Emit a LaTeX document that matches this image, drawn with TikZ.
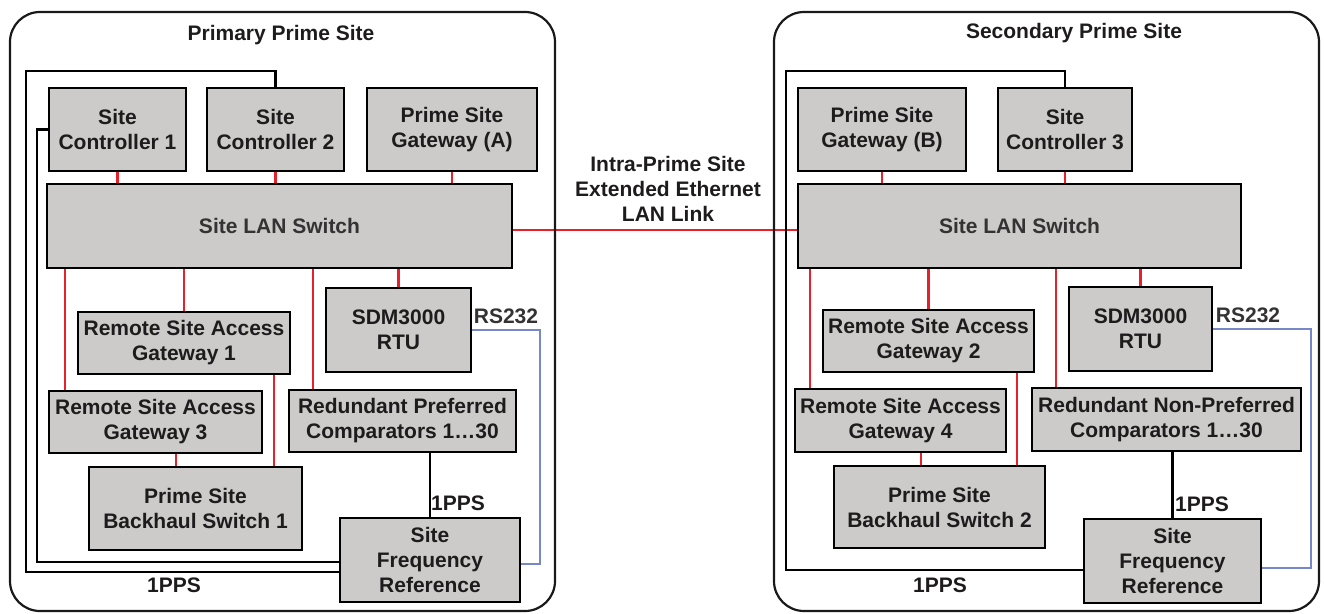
\documentclass[tikz,border=0pt]{standalone}
\usepackage{fontspec}
\setmainfont{Liberation Sans}
\usetikzlibrary{backgrounds}
\definecolor{boxfill}{RGB}{205,203,202}
\definecolor{ink}{RGB}{30,27,28}
\definecolor{softink}{RGB}{52,50,50}
\definecolor{lanred}{RGB}{232,32,42}
\definecolor{serblue}{RGB}{118,136,200}
\tikzset{
  unit/.style={draw=black, fill=boxfill, line width=2.6pt, inner sep=0pt, outer sep=0pt,
    align=center, text=ink, font=\bfseries\fontsize{21}{25}\selectfont},
  panel/.style={draw=black!90, line width=2.2pt, rounded corners=30pt},
  lan/.style={draw=lanred, line width=2.2pt},
  pps/.style={draw=black, line width=2.6pt},
  ser/.style={draw=serblue, line width=2.4pt},
  lbl/.style={text=ink, inner sep=0pt, align=center, font=\bfseries\fontsize{21}{25}\selectfont}
}
% unit box from its corners: name, x1, y1, x2, y2, text
\newcommand{\unitbox}[6]{%
  \node[unit, minimum width={(#4-#2)*1pt}, minimum height={(#5-#3)*1pt}]
    (#1) at ({(#2+#4)/2},{(#3+#5)/2}) {#6};}
\begin{document}
\begin{tikzpicture}[x=1pt, y=-1pt]
\useasboundingbox (0,0) rectangle (1325,613);

% site enclosures
\draw[panel] (10,12) rectangle (555,611);
\draw[panel] (774,12) rectangle (1319,611);
\node[lbl] (ptitle) at (281,35) {Primary Prime Site};
\node[lbl] (stitle) at (1074,33) {Secondary Prime Site};

% ---------- primary site ----------
\unitbox{sc1}{49}{88}{186}{171}{Site\\Controller 1}
\unitbox{sc2}{207}{88}{344}{171}{Site\\Controller 2}
\unitbox{psga}{367}{88}{537}{171}{Prime Site\\Gateway (A)}
\unitbox{lsw}{47}{184}{512}{268}{\color{softink}Site LAN Switch}
\unitbox{sdm}{326}{288}{471}{372}{SDM3000\\RTU}
\unitbox{rsag1}{78}{312}{290}{374}{Remote Site Access\\Gateway 1}
\unitbox{rsag3}{49}{391}{262}{453}{Remote Site Access\\Gateway 3}
\unitbox{rpc}{289}{390}{516}{452}{Redundant Preferred\\Comparators 1…30}
\unitbox{psbs1}{89}{467}{302}{550}{Prime Site\\Backhaul Switch 1}
\unitbox{sfr}{340}{518}{520}{602}{Site\\Frequency\\Reference}

% ---------- secondary site ----------
\unitbox{psgb}{798}{88}{966}{171}{Prime Site\\Gateway (B)}
\unitbox{sc3}{998}{88}{1132}{171}{Site\\Controller 3}
\unitbox{rsw}{798}{184}{1241}{268}{\color{softink}Site LAN Switch}
\unitbox{sdm2}{1069}{287}{1212}{371}{SDM3000\\RTU}
\unitbox{rsag2}{823}{310}{1034}{372}{Remote Site Access\\Gateway 2}
\unitbox{rsag4}{795}{389}{1006}{452}{Remote Site Access\\Gateway 4}
\unitbox{rnpc}{1032}{388}{1301}{451}{Redundant Non-Preferred\\Comparators 1…30}
\unitbox{psbs2}{834}{466}{1045}{548}{Prime Site\\Backhaul Switch 2}
\unitbox{sfr2}{1084}{519}{1261}{603}{Site\\Frequency\\Reference}

% labels
\node[lbl] (link) at (668,189) {Intra-Prime Site\\Extended Ethernet\\LAN Link};
\node[lbl, text=softink] (rsa) at (506,316) {RS232};
\node[lbl, text=softink] (rsb) at (1248,315) {RS232};
\node[lbl] (ppsa) at (458,503) {1PPS};
\node[lbl] (ppsb) at (174,585) {1PPS};
\node[lbl] (ppsc) at (1202,504) {1PPS};
\node[lbl] (ppsd) at (940,585) {1PPS};

% routing points
\coordinate (xa) at (65,0);
\coordinate (xb) at (313,0);
\coordinate (xc) at (274,0);
\coordinate (xd) at (176,0);
\coordinate (xe) at (810,0);
\coordinate (xf) at (1056,0);
\coordinate (xg) at (1017,0);
\coordinate (xh) at (921,0);
\coordinate (ylink) at (0,230);
\coordinate (lo1) at (26,71);
\coordinate (lo2) at (26,572);
\coordinate (li1) at (37,0);
\coordinate (li2) at (37,562);
\coordinate (ro1) at (786,71);
\coordinate (ro2) at (786,570);
\coordinate (bl1) at (540,0);
\coordinate (bl2) at (540,564);
\coordinate (br1) at (1311,0);
\coordinate (br2) at (1311,568);

\begin{scope}[on background layer]
  % LAN connections, primary
  \draw[lan] (sc1.south) -- (sc1.south |- lsw.north);
  \draw[lan] (sc2.south) -- (sc2.south |- lsw.north);
  \draw[lan] (psga.south) -- (psga.south |- lsw.north);
  \draw[lan] (lsw.south -| xa) -- (rsag3.north -| xa);
  \draw[lan] (rsag1.north |- lsw.south) -- (rsag1.north);
  \draw[lan] (lsw.south -| xb) -- (rpc.north -| xb);
  \draw[lan] (sdm.north |- lsw.south) -- (sdm.north);
  \draw[lan] (rsag1.south -| xc) -- (psbs1.north -| xc);
  \draw[lan] (rsag3.south -| xd) -- (psbs1.north -| xd);
  % LAN connections, secondary
  \draw[lan] (psgb.south) -- (psgb.south |- rsw.north);
  \draw[lan] (sc3.south) -- (sc3.south |- rsw.north);
  \draw[lan] (rsw.south -| xe) -- (rsag4.north -| xe);
  \draw[lan] (rsag2.north |- rsw.south) -- (rsag2.north);
  \draw[lan] (rsw.south -| xf) -- (rnpc.north -| xf);
  \draw[lan] (sdm2.north |- rsw.south) -- (sdm2.north);
  \draw[lan] (rsag2.south -| xg) -- (psbs2.north -| xg);
  \draw[lan] (rsag4.south -| xh) -- (psbs2.north -| xh);
  % extended ethernet link between the sites
  \draw[lan] (lsw.east |- ylink) -- (rsw.west |- ylink);

  % 1PPS timing, primary
  \draw[pps] (sfr.north) -- (sfr.north |- rpc.south);
  \draw[pps] (sc2.north) -- (sc2.north |- lo1) -- (lo1) -- (lo2) -- (sfr.west |- lo2);
  \draw[pps] (sc1.west) -- (sc1.west -| li1) -- (li2) -- (sfr.west |- li2);
  % 1PPS timing, secondary
  \draw[pps] (sfr2.north) -- (sfr2.north |- rnpc.south);
  \draw[pps] (sc3.north) -- (sc3.north |- ro1) -- (ro1) -- (ro2) -- (sfr2.west |- ro2);

  % RS232 links
  \draw[ser] (sdm.east) -- (sdm.east -| bl1) -- (bl2) -- (sfr.east |- bl2);
  \draw[ser] (sdm2.east) -- (sdm2.east -| br1) -- (br2) -- (sfr2.east |- br2);
\end{scope}
\end{tikzpicture}
\end{document}
